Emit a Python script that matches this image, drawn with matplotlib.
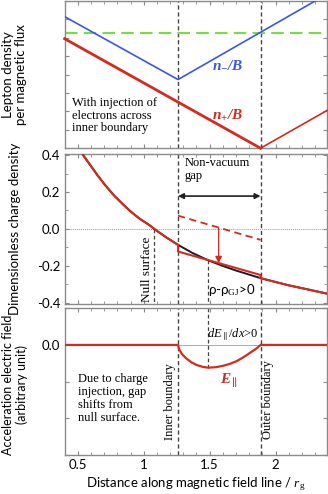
import matplotlib
matplotlib.use("Agg")
import matplotlib.pyplot as plt
from matplotlib.ticker import MultipleLocator, FixedLocator

plt.rcParams['font.family'] = ['Lato', 'DejaVu Sans']
plt.rcParams['mathtext.fontset'] = 'custom'
plt.rcParams['mathtext.rm'] = 'Liberation Serif'
plt.rcParams['mathtext.it'] = 'Liberation Serif:italic'
plt.rcParams['mathtext.bf'] = 'Liberation Serif:italic:bold'

# boundaries (in r_g)
x_inner = 1.26
x_outer = 1.886
x_null = 1.08
x_cross = 1.488

# top panel: lepton density per flux (arbitrary units)
nminus_x = [0.40, 1.26, 2.39]
nminus_y = [7.15, 3.73, 8.37]
nplus_x = [0.40, 1.886]
nplus_y = [5.95, 0.0]
nplus_out_x = [1.886, 2.39]
nplus_out_y = [0.0, 2.05]
green_level = 6.27

# middle panel: GJ charge density
rho_gj_x = [0.54, 0.60, 0.65, 0.71, 0.77, 0.84, 0.90, 0.97, 1.045, 1.08, 1.17,
            1.26, 1.37, 1.49, 1.60, 1.70, 1.80, 1.886, 2.00, 2.10, 2.25, 2.39]
rho_gj_y = [0.40, 0.34, 0.29, 0.235, 0.185, 0.135, 0.095, 0.055, 0.02, 0.0, -0.045,
            -0.086, -0.13, -0.17, -0.20, -0.225, -0.247, -0.266, -0.287, -0.305, -0.328, -0.35]
rho_gap_x = [1.26, 1.26, 1.886, 1.886]
rho_gap_y = [-0.086, -0.122, -0.249, -0.266]
rho_dash_x = [1.26, 1.886]
rho_dash_y = [0.072, -0.059]

# bottom panel: E parallel
e_x = [0.40, 1.26, 1.27, 1.29, 1.32, 1.36, 1.40, 1.45, 1.49, 1.55, 1.60, 1.65,
       1.70, 1.75, 1.80, 1.85, 1.886, 2.39]
e_y = [0.0, 0.0, -0.13, -0.25, -0.36, -0.47, -0.545, -0.60, -0.62, -0.605, -0.57,
       -0.52, -0.45, -0.35, -0.23, -0.11, 0.0, 0.0]

red = '#d62a1e'
blue = '#3a55ee'
green = '#77dd44'
frame = '#8a8a8a'
vline = '#444444'
serif = 'Liberation Serif'

fig = plt.figure(figsize=(3.28, 4.94), dpi=100)
L, W = 0.197, 0.800
ax1 = fig.add_axes([L, 0.700, W, 0.298])
ax2 = fig.add_axes([L, 0.385, W, 0.303])
ax3 = fig.add_axes([L, 0.079, W, 0.297])

for ax in (ax1, ax2, ax3):
    ax.set_xlim(0.40, 2.39)
    ax.xaxis.set_major_locator(MultipleLocator(0.5))
    ax.xaxis.set_minor_locator(MultipleLocator(0.1))
    ax.tick_params(which='both', direction='in', top=True, right=True,
                   color=frame, labelsize=9.5, pad=3)
    ax.tick_params(which='major', length=3)
    ax.tick_params(which='minor', length=2)
    for s in ax.spines.values():
        s.set_color(frame)
        s.set_linewidth(1.0)
    ax.axvline(x_inner, color=vline, ls=(0, (3, 2)), lw=1.0, zorder=1)
    ax.axvline(x_outer, color=vline, ls=(0, (3, 2)), lw=1.0, zorder=1)

ax1.tick_params(labelbottom=False, labelleft=False)
ax2.tick_params(labelbottom=False)

# ---- top panel
ax1.set_ylim(0, 8)
ax1.yaxis.set_major_locator(MultipleLocator(1))
ax1.axhline(green_level, color=green, lw=1.5, ls=(0, (6, 3)), zorder=2)
ax1.plot(nminus_x, nminus_y, color=blue, lw=1.2, zorder=3)
ax1.plot(nplus_x, nplus_y, color=red, lw=2.0, zorder=3, clip_on=False)
ax1.plot(nplus_out_x, nplus_out_y, color=red, lw=1.2, zorder=3, clip_on=False)
ax1.text(1.636, 4.6, r'$\mathbf{n_{-}/B}$', color=blue, fontsize=11,
         ha='center', va='center')
ax1.text(1.636, 1.78, r'$\mathbf{n_{+}/B}$', color=red, fontsize=11,
         ha='center', va='center')
ax1.text(0.455, 2.8, 'With injection of\nelectrons across\ninner boundary',
         family=serif, fontsize=9, va='top', ha='left', linespacing=1.1)
ax1.set_ylabel('Lepton density\nper magnetic flux', fontsize=9.5, linespacing=1.1)
ax1.yaxis.set_label_coords(-0.145, 0.5)

# ---- middle panel
ax2.set_ylim(-0.405, 0.405)
ax2.yaxis.set_major_locator(FixedLocator([-0.4, -0.2, 0.0, 0.2, 0.4]))
ax2.yaxis.set_minor_locator(MultipleLocator(0.1))
ax2.set_yticklabels(['-0.4', '-0.2', '0.0', '0.2', '0.4'])
ax2.axhline(0, color='#999999', lw=0.7, ls=(0, (1, 1)), zorder=1)
ax2.plot([x_null, x_null], [0, -0.405], color=vline, ls=(0, (3, 2)), lw=0.9)
ax2.plot([x_cross, x_cross], [-0.17, -0.405], color=vline, ls=(0, (3, 2)), lw=0.9)
ax2.plot(rho_gj_x, rho_gj_y, color='#1a1a2a', lw=1.4, zorder=3)
outer = [(x, y) for x, y in zip(rho_gj_x, rho_gj_y) if x <= x_inner]
ax2.plot([p[0] for p in outer], [p[1] for p in outer], color=red, lw=1.5, zorder=4)
outer = [(x, y) for x, y in zip(rho_gj_x, rho_gj_y) if x >= x_outer]
ax2.plot([p[0] for p in outer], [p[1] for p in outer], color=red, lw=1.5, zorder=4)
ax2.plot(rho_gap_x, rho_gap_y, color=red, lw=1.5, zorder=4)
ax2.plot(rho_dash_x, rho_dash_y, color=red, lw=1.3, ls=(0, (4, 2.5)), zorder=4)
ax2.annotate('', xy=(1.568, -0.186), xytext=(1.568, 0.004),
             arrowprops=dict(arrowstyle='-|>', color=red, lw=0.9,
                             mutation_scale=10, shrinkA=0, shrinkB=0), zorder=5)
ax2.annotate('', xy=(x_inner, 0.178), xytext=(x_outer, 0.178),
             arrowprops=dict(arrowstyle='<|-|>', color='#222222', lw=1.2,
                             mutation_scale=8, shrinkA=0, shrinkB=0))
ax2.text(1.31, 0.39, 'Non-vacuum\ngap', family=serif, fontsize=9,
         va='top', ha='left', linespacing=1.1)
ax2.text(1.025, -0.22, 'Null surface', family=serif, fontsize=9.5,
         rotation=90, ha='center', va='center')
ax2.text(1.667, -0.33, r'ρ-ρ$_{\rm GJ}$>0', fontsize=9.5, ha='center', va='center')
ax2.set_ylabel('Dimensionless charge density', fontsize=9.5)
ax2.yaxis.set_label_coords(-0.168, 0.5)

# ---- bottom panel
ax3.set_ylim(-3.0, 1.0)
ax3.set_yticks([-3, -2, -1, 0, 1])
ax3.set_yticklabels(['', '', '', '0.0', ''])
ax3.axhline(0, color='#aaaaaa', lw=0.7, zorder=1)
ax3.plot([x_cross, x_cross], [1.0, -0.62], color=vline, ls=(0, (3, 2)), lw=0.9)
ax3.plot(e_x, e_y, color=red, lw=1.6, zorder=4)
ax3.text(1.675, 0.27, r'$dE_{\parallel}/dx$>0', family=serif, fontsize=9,
         ha='center', va='center')
ax3.text(1.645, -0.97, r'$\mathbf{E_{\parallel}}$', color=red, fontsize=11,
         ha='center', va='center')
ax3.text(0.50, -0.76, 'Due to charge\ninjection, gap\nshifts from\nnull surface.',
         family=serif, fontsize=9, va='top', ha='left', linespacing=1.1)
ax3.text(1.197, -1.55, 'Inner boundary', family=serif, fontsize=9,
         rotation=90, ha='center', va='center')
ax3.text(1.94, -1.5, 'Outer boundary', family=serif, fontsize=9,
         rotation=90, ha='center', va='center')
ax3.set_ylabel('Acceleration electric field\n(arbitrary unit)', fontsize=9,
               linespacing=1.1)
ax3.yaxis.set_label_coords(-0.14, 0.48)
ax3.set_xticks([0.5, 1.0, 1.5, 2.0])
ax3.set_xticklabels(['0.5', '1', '1.5', '2'])
ax3.set_xlabel(r'Distance along magnetic field line / $r_{\rm g}$', fontsize=9.5,
               labelpad=3)

fig.savefig('out.png', dpi=100)
